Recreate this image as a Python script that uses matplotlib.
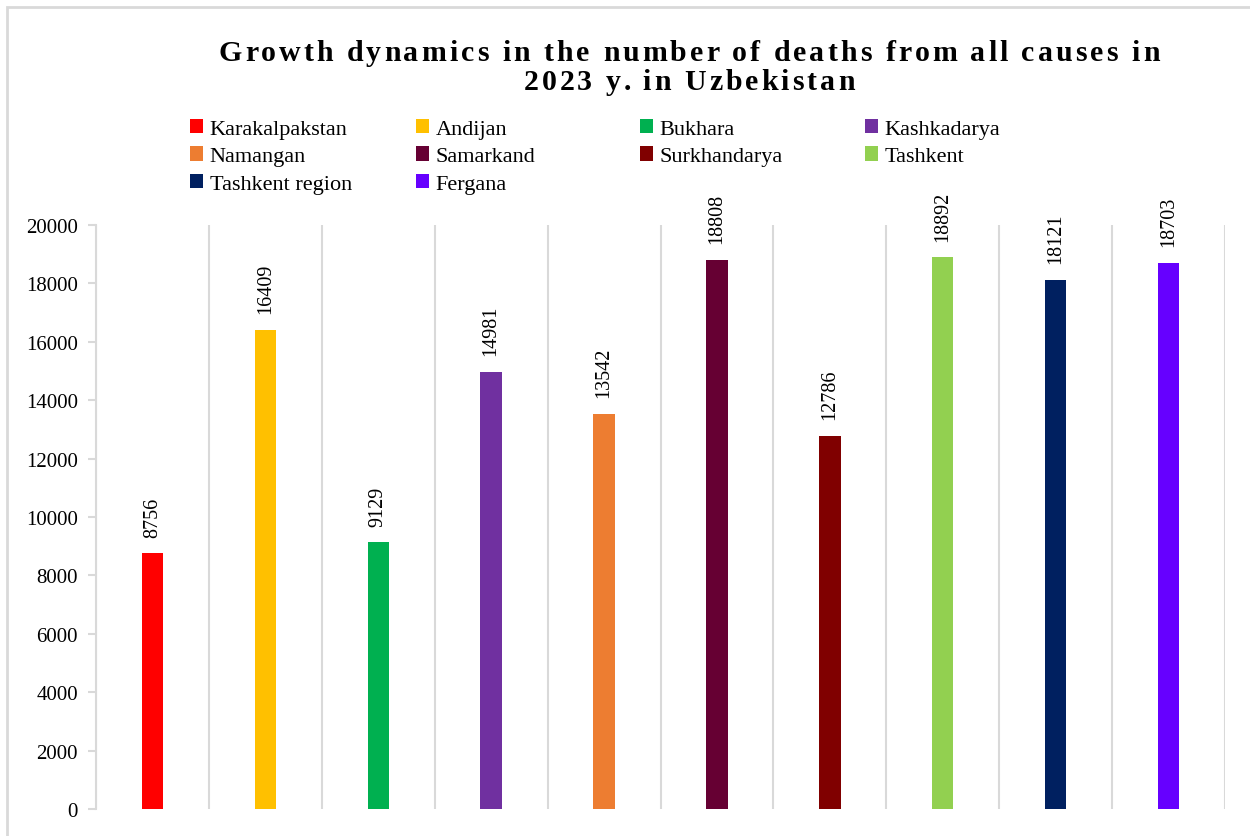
import matplotlib.pyplot as plt
from matplotlib.patches import Rectangle

regions = ["Karakalpakstan", "Andijan", "Bukhara", "Kashkadarya", "Namangan",
           "Samarkand", "Surkhandarya", "Tashkent", "Tashkent region", "Fergana"]
deaths = [8756, 16409, 9129, 14981, 13542, 18808, 12786, 18892, 18121, 18703]
colors = ["#FF0000", "#FFC000", "#00B050", "#7030A0", "#ED7D31",
          "#660033", "#800000", "#92D050", "#002060", "#6600FF"]
y_ticks = [0, 2000, 4000, 6000, 8000, 10000, 12000, 14000, 16000, 18000, 20000]
title_lines = ["Growth dynamics in the number of deaths from all causes in",
               "2023 y. in Uzbekistan"]

plt.rcParams['font.family'] = ['Liberation Serif', 'DejaVu Serif']

W, H = 1250, 837
fig = plt.figure(figsize=(W / 100, H / 100), dpi=100)
# light frame round the chart area
fig.patches.append(Rectangle((7 / W, -0.05), 1.1, 1.05 - 8 / H, transform=fig.transFigure,
                             fill=False, edgecolor="#D9D9D9", linewidth=2))

ax = fig.add_axes([96 / W, 27 / H, 1129 / W, 584 / H])

bars = []
for i, (name, val, col) in enumerate(zip(regions, deaths, colors)):
    b = ax.bar(i + 0.5, val, width=0.19, color=col, label=name, zorder=3)
    bars.append(b)
    ax.annotate(str(val), (i + 0.5, val), xytext=(0, 12), textcoords="offset points",
                rotation=90, ha="center", va="bottom", fontsize=14.5)

ax.set_xlim(0, len(regions))
ax.set_ylim(0, 20000)
ax.set_yticks(y_ticks)
ax.set_xticks(range(len(regions) + 1))
ax.set_xticklabels([])
ax.tick_params(axis="x", length=0)
ax.tick_params(axis="y", length=6, color="#D9D9D9", width=1.5, labelsize=15, pad=7)
ax.grid(axis="x", color="#D9D9D9", linewidth=1.5, zorder=0)
for s in ["top", "right", "bottom"]:
    ax.spines[s].set_visible(False)
ax.spines["left"].set_color("#D9D9D9")
ax.spines["left"].set_linewidth(1.5)


def spaced_line(text, cx, baseline, size, gap):
    # bold title line with extra tracking between letters
    r = fig.canvas.get_renderer()

    def width(s):
        t = fig.text(0, 0, s, fontsize=size, fontweight="bold")
        w = t.get_window_extent(r).width
        t.remove()
        return w

    ref = width("x")
    pos = [width(text[:k] + "x") - ref if k else 0 for k in range(len(text))]
    total = width(text) + gap * (len(text) - 1)
    x0 = cx - total / 2
    for k, ch in enumerate(text):
        fig.text((x0 + pos[k] + gap * k) / W, 1 - baseline / H, ch, fontsize=size,
                 fontweight="bold", ha="left", va="baseline")


spaced_line(title_lines[0], 689, 61, 21.5, 3)
spaced_line(title_lines[1], 689, 90, 21.5, 3)

# legend laid out row by row in four columns
col_x = [190, 416, 640, 865]
for c, x in enumerate(col_x):
    idx = list(range(c, len(regions), 4))
    fig.legend([bars[i] for i in idx], [regions[i] for i in idx],
               loc="upper left", bbox_to_anchor=(x / W, 1 - 120 / H), frameon=False,
               fontsize=16, handlelength=0.6, handleheight=0.6, handletextpad=0.28,
               labelspacing=0.34, borderpad=0, borderaxespad=0)

fig.savefig("out.png", dpi=100)
